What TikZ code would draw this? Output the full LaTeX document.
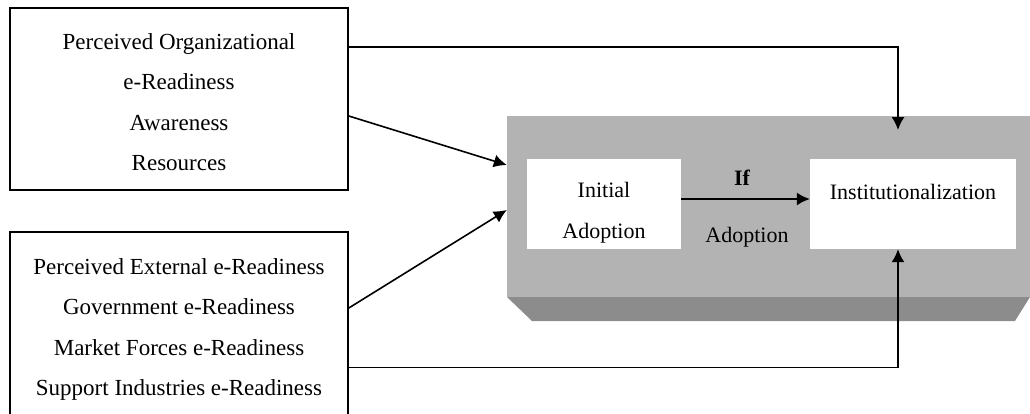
\documentclass[tikz,border=0pt]{standalone}
\usepackage{fontspec}
\setmainfont{Liberation Serif}
\usetikzlibrary{positioning, arrows.meta}
\definecolor{panel}{HTML}{B3B3B3}
\definecolor{panelshade}{HTML}{8C8C8C}

\begin{document}
\begin{tikzpicture}[
    x=1pt, y=-1pt,
    factor/.style={
        rectangle,
        draw=black,
        line width=1.6pt,
        minimum width=338pt,
        align=center,
        font=\fontsize{23}{40.5}\selectfont,
    },
    stage/.style={
        rectangle,
        fill=white,
        inner sep=0pt,
        minimum height=90pt,
    },
    txt/.style={
        inner sep=0pt,
        anchor=base,
        font=\fontsize{22}{26}\selectfont,
    },
    link/.style={-{Latex[length=13pt,width=13pt]}, line width=1.6pt},
]
\clip (0,0) rectangle (1030,413);

% factors
\node[factor, minimum height=182pt] (org) at (179,99)
    {\rule{0pt}{22pt}Perceived Organizational\\e-Readiness\\Awareness\\Resources};
\node[factor, minimum height=191pt] (ext) at (179,327.5)
    {\rule{0pt}{20pt}Perceived External e-Readiness\\Government e-Readiness\\Market Forces e-Readiness\\Support Industries e-Readiness};

% adoption panel
\fill[panelshade] (507,297) -- (1030,297) -- (1015,321) -- (532,321) -- cycle;
\node[fill=panel, inner sep=0pt, minimum width=523pt, minimum height=181pt] (panel) at (768.5,206.5) {};

\node[stage, minimum width=154pt] (initial) at (604,204) {};
\node[stage, minimum width=206pt] (inst) at (913,204) {};

\node[txt] (initial1) at (604,197) {Initial};
\node[txt] (initial2) at (604,238) {Adoption};
\node[txt] (instlabel) at (913,199) {Institutionalization};
\node[txt, font=\fontsize{22}{26}\selectfont\bfseries] (iflabel) at (742,185) {If};
\node[txt] (adoptlabel) at (747,242) {Adoption};

\coordinate (topin) at (898,130);

\draw[link] ([yshift=-17pt]org.east) -- ([yshift=41.5pt]panel.west);
\draw[link] ([yshift=19.5pt]ext.east) -- ([yshift=-3.5pt]panel.west);
\draw[link] ([yshift=5pt]initial.east) -- ([yshift=5pt]inst.west);
\draw[link] ([yshift=52pt]org.east) -| (topin);
\draw[link] ([yshift=-40pt]ext.east) -| ([xshift=-15pt]inst.south);

\end{tikzpicture}
\end{document}
